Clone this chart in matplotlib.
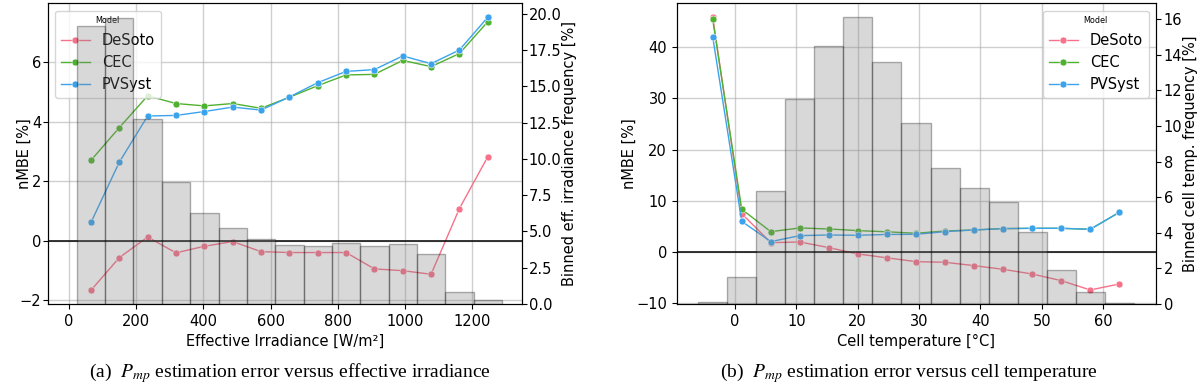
import numpy as np
import matplotlib
matplotlib.use("Agg")
import matplotlib.pyplot as plt

# ---------------- data ----------------
models = ["DeSoto", "CEC", "PVSyst"]
colors = ["#f77189", "#50b131", "#3ba3ec"]

# (a) effective irradiance
irr_range = (23.0, 1288.0)
irr_nbins = 15
irr_freq = [19.17, 19.74, 12.72, 8.40, 6.29, 5.26, 4.50, 4.08, 3.99, 4.22,
            3.99, 4.13, 3.46, 0.80, 0.27]
irr_desoto = [-1.66, -0.56, 0.13, -0.40, -0.18, -0.02, -0.36, -0.39, -0.39,
              -0.39, -0.94, -1.00, -1.12, 1.09, 2.83]
irr_cec = [2.71, 3.81, 4.88, 4.62, 4.54, 4.62, 4.46, 4.83, 5.22, 5.58,
           5.60, 6.07, 5.86, 6.30, 7.37]
irr_pvsyst = [0.62, 2.65, 4.20, 4.22, 4.35, 4.50, 4.40, 4.84, 5.32, 5.70,
              5.76, 6.22, 5.96, 6.42, 7.52]

# (b) cell temperature
tmp_range = (-6.0, 65.0)
tmp_nbins = 15
tmp_freq = [0.13, 1.53, 6.37, 11.52, 14.48, 16.11, 13.60, 10.15, 7.66, 6.50,
            5.73, 4.06, 1.89, 0.66, 0.06]
tmp_desoto = [45.96, 7.49, 1.82, 1.95, 0.85, -0.39, -1.14, -1.89, -2.02,
              -2.67, -3.39, -4.30, -5.60, -7.42, -6.25]
tmp_cec = [45.45, 8.33, 3.97, 4.69, 4.49, 4.17, 3.94, 3.65, 4.10, 4.30,
           4.56, 4.62, 4.62, 4.43, 7.75]
tmp_pvsyst = [42.05, 5.99, 2.02, 3.19, 3.32, 3.26, 3.42, 3.45, 3.97, 4.30,
              4.56, 4.62, 4.62, 4.43, 7.75]

# ---------------- style ----------------
plt.rcParams["font.family"] = ["DejaVu Sans"]
plt.rcParams["mathtext.fontset"] = "stix"
FS = 10.5

fig = plt.figure(figsize=(12, 3.87), dpi=100)


def panel(rect, rng, nbins, freq, series, xlim, ylim, y2lim, xticks, y2ticks,
          xlabel, y2label, legloc, ylab_x, y2lab_x, ypad, y2pad, y2fmt=None):
    ax = fig.add_axes(rect)
    edges = np.linspace(rng[0], rng[1], nbins + 1)
    centers = 0.5 * (edges[:-1] + edges[1:])
    for name, col, vals in zip(models, colors, series):
        ax.plot(centers, vals, color=col, lw=1.0, marker="o", ms=5.0,
                mec="white", mew=0.4, label=name)
    ax.axhline(0, color="black", lw=1.1)
    ax.grid(True, color="#b0b0b0", alpha=0.6, lw=1.0)
    ax.set_xlim(*xlim)
    ax.set_ylim(*ylim)
    ax.set_xticks(xticks)
    ax.set_xlabel(xlabel, fontsize=FS)
    ax.set_ylabel("nMBE [%]", fontsize=FS)
    ax.tick_params(labelsize=FS)
    ax.tick_params(axis="y", pad=ypad)
    ax.legend(loc=legloc, title="Model", fontsize=FS, title_fontsize=5.8)
    ax2 = ax.twinx()
    ax2.bar(edges[:-1], freq, width=np.diff(edges), align="edge",
            color="grey", edgecolor="black", alpha=0.3, lw=1.0)
    ax2.set_ylim(*y2lim)
    ax2.set_yticks(y2ticks)
    if y2fmt:
        ax2.set_yticklabels([y2fmt.format(v) for v in y2ticks])
    ax2.set_ylabel(y2label, fontsize=FS)
    ax2.tick_params(labelsize=FS, pad=y2pad)
    # label placement (centre of the rotated text)
    ax.yaxis.label.set_verticalalignment("center")
    ax.yaxis.set_label_coords(ylab_x, 0.5)
    ax2.yaxis.label.set_verticalalignment("center")
    ax2.yaxis.set_label_coords(y2lab_x, 0.5)
    return ax, ax2


panel([0.0398, 0.2145, 0.395, 0.777], irr_range, irr_nbins, irr_freq,
      [irr_desoto, irr_cec, irr_pvsyst],
      xlim=(-63.4, 1347), ylim=(-2.12, 7.99), y2lim=(0, 20.73),
      xticks=[0, 200, 400, 600, 800, 1000, 1200],
      y2ticks=[0, 2.5, 5, 7.5, 10, 12.5, 15, 17.5, 20],
      xlabel="Effective Irradiance [W/m²]",
      y2label="Binned eff. irradiance frequency [%]",
      legloc="upper left", ylab_x=-0.05, y2lab_x=1.1005,
      ypad=1.0, y2pad=1.5, y2fmt="{:.1f}")

panel([0.5639, 0.2145, 0.3994, 0.777], tmp_range, tmp_nbins, tmp_freq,
      [tmp_desoto, tmp_cec, tmp_pvsyst],
      xlim=(-9.5, 68.6), ylim=(-10.16, 48.57), y2lim=(0, 16.89),
      xticks=[0, 10, 20, 30, 40, 50, 60],
      y2ticks=[0, 2, 4, 6, 8, 10, 12, 14, 16],
      xlabel="Cell temperature [°C]",
      y2label="Binned cell temp. frequency [%]",
      legloc="upper right", ylab_x=-0.0995, y2lab_x=1.073,
      ypad=3.5, y2pad=2.0)

cap_kw = dict(fontsize=14, family="Liberation Serif", ha="center",
              va="center")
fig.text(290 / 1200, 1 - 373 / 387,
         "(a)  $P_{mp}$ estimation error versus effective irradiance", **cap_kw)
fig.text(909 / 1200, 1 - 373 / 387,
         "(b)  $P_{mp}$ estimation error versus cell temperature", **cap_kw)

fig.savefig("out.png", dpi=100)
